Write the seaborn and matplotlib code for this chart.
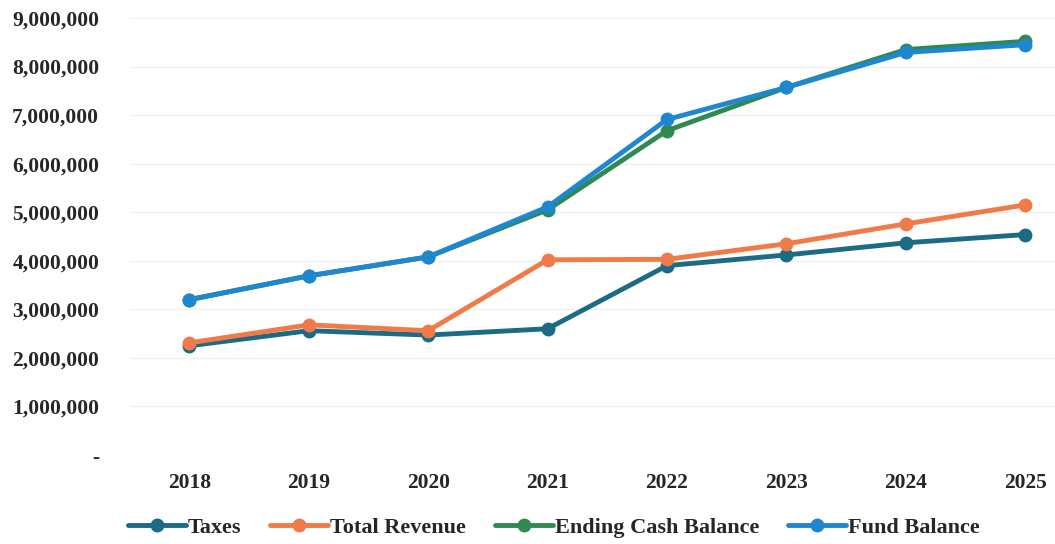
import matplotlib
matplotlib.use("Agg")
import matplotlib.pyplot as plt
import pandas as pd
import seaborn as sns
from matplotlib.ticker import FuncFormatter, MultipleLocator

# Values
years = [2018, 2019, 2020, 2021, 2022, 2023, 2024, 2025]
taxes = [2250000, 2560000, 2470000, 2600000, 3900000, 4120000, 4370000, 4540000]
total_revenue = [2310000, 2680000, 2560000, 4020000, 4030000, 4350000, 4760000, 5150000]
ending_cash = [3200000, 3690000, 4080000, 5050000, 6680000, 7570000, 8350000, 8520000]
fund_balance = [3200000, 3690000, 4080000, 5110000, 6910000, 7570000, 8290000, 8450000]

series_names = ["Taxes", "Total Revenue", "Ending Cash Balance", "Fund Balance"]
colors = ["#1b6a86", "#f07b49", "#2f8a52", "#1f87d0"]

df = pd.concat([
    pd.DataFrame({"Year": years, "Value": vals, "Series": name})
    for name, vals in zip(series_names, [taxes, total_revenue, ending_cash, fund_balance])
])

sns.set_style("white")
plt.rcParams["font.family"] = ["Liberation Serif", "DejaVu Serif"]

fig = plt.figure(figsize=(10.55, 5.44), dpi=100)
ax = fig.add_axes([0.123, 0.1636, 0.877, 0.8033])

sns.lineplot(data=df, x="Year", y="Value", hue="Series", hue_order=series_names,
             palette=colors, marker="o", markersize=10, markeredgewidth=0,
             linewidth=3.5, ax=ax)

ax.set_xlim(2017.5, 2025.25)
ax.set_ylim(0, 9000000)
ax.yaxis.set_major_locator(MultipleLocator(1000000))
ax.yaxis.set_major_formatter(FuncFormatter(lambda v, p: "-" if v == 0 else f"{v:,.0f}"))
ax.set_xticks(years)
ax.set_xticklabels([str(y) for y in years])
ax.tick_params(axis="both", length=0, labelsize=15.5)
ax.tick_params(axis="x", pad=13)
ax.tick_params(axis="y", pad=22)
for lbl in ax.get_xticklabels() + ax.get_yticklabels():
    lbl.set_fontweight("bold")
ax.grid(axis="y", color="#f0f0f0", linewidth=1)
ax.set_xlabel("")
ax.set_ylabel("")
for s in ax.spines.values():
    s.set_visible(False)

handles, labels = ax.get_legend_handles_labels()
ax.legend_.remove()
fig.legend(handles, labels, loc="center", bbox_to_anchor=(0.525, 0.03), ncol=4,
           frameon=False, handlelength=2.6, columnspacing=1.3, handletextpad=0.1,
           prop={"weight": "bold", "size": 16})

fig.savefig("out.png", dpi=100, facecolor="white")
